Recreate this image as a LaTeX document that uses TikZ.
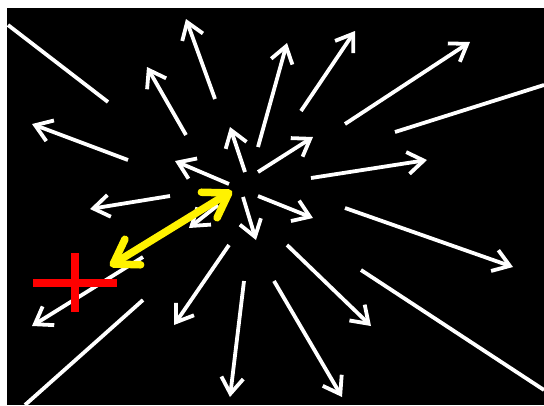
\documentclass[tikz,border=0pt]{standalone}
\usetikzlibrary{arrows.meta}
\begin{document}
\begin{tikzpicture}[x=1pt,y=-1pt,
  ray/.style={draw=white,line width=3.8pt},
  arw/.style={ray,-{Straight Barb[length=16pt,width=22pt]}},
  dbl/.style={draw=yellow,line width=7.5pt,{Straight Barb[length=23pt,width=30pt,round]}-{Straight Barb[length=23pt,width=30pt,round]}},
  plus/.style={draw=red,line width=8pt}]
\useasboundingbox (0,0) rectangle (544,405);
\fill[white] (0,0) rectangle (544,405);
\fill[black] (7,8) rectangle (544,405);
% arrows: tail -> head
\foreach \n/\ax/\ay/\bx/\by in {
 1/215/99/186/19, 2/186/135/147/67, 3/128/160/32/124, 4/229/184/175/161,
 5/245/172/230/127, 6/258/147/287/43, 7/301/111/355/31, 8/345/124/470/42,
 9/311/178/427/160, 10/258/172/313/137, 11/258/196/313/218, 12/243/197/256/240,
 13/218/205/189/228, 14/170/196/90/209, 15/143/257/32/326, 16/229/245/174/325,
 17/244/281/230/397, 18/345/208/513/267, 19/287/245/371/326, 20/274/281/342/397}{
  \coordinate (t\n) at (\ax,\ay);
  \coordinate (h\n) at (\bx,\by);
  \draw[arw] (t\n) -- (h\n);
}
% plain lines
\foreach \n/\ax/\ay/\bx/\by in {1/8/25/108/102, 2/395/132/544/85, 3/143/300/25/405, 4/361/270/544/390}{
  \coordinate (la\n) at (\ax,\ay);
  \coordinate (lb\n) at (\bx,\by);
  \draw[ray] (la\n) -- (lb\n);
}
% yellow double arrow
\coordinate (ya) at (110,266);
\coordinate (yb) at (232,191);
\draw[dbl] (ya) -- (yb);
% red plus
\coordinate (pt) at (75,253);
\coordinate (pb) at (75,312);
\coordinate (pl) at (33,283);
\coordinate (pr) at (117,283);
\draw[plus] (pt) -- (pb);
\draw[plus] (pl) -- (pr);
\end{tikzpicture}
\end{document}
